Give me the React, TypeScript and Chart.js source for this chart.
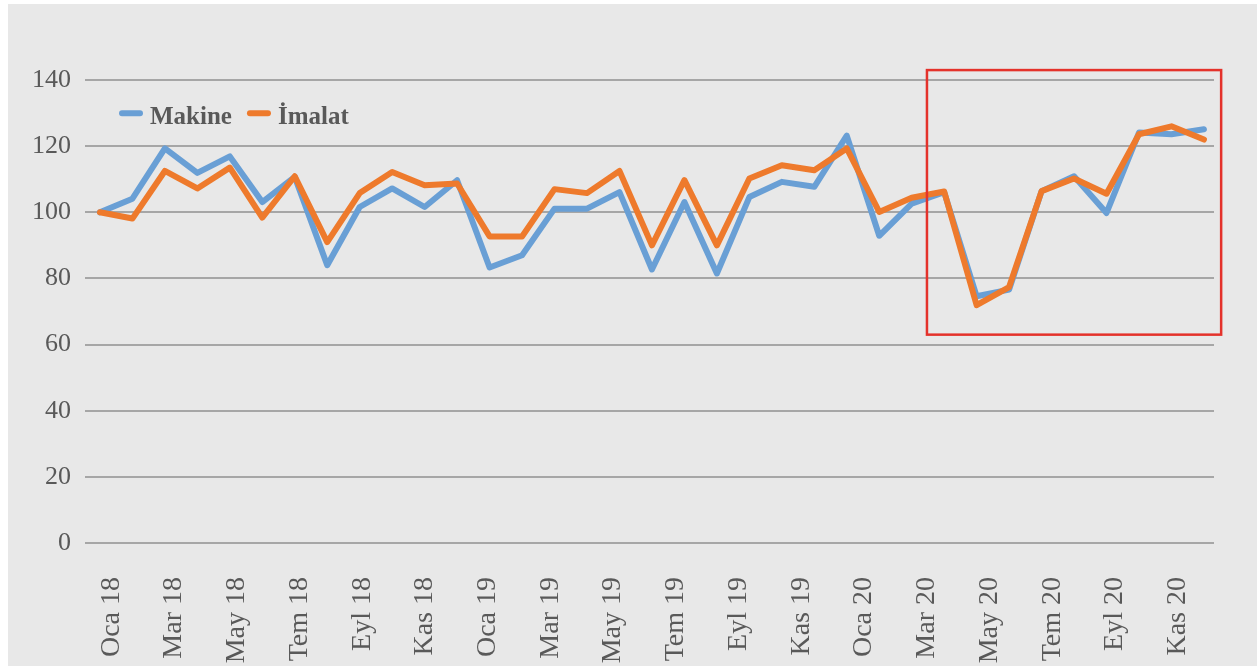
import { useEffect, useRef } from 'react';
import { Chart, registerables } from 'chart.js';

Chart.register(...registerables);

// 35 months, Oca 18 .. Kas 20
const months = [
  'Oca 18', 'Şub 18', 'Mar 18', 'Nis 18', 'May 18', 'Haz 18', 'Tem 18', 'Ağu 18', 'Eyl 18', 'Eki 18', 'Kas 18', 'Ara 18',
  'Oca 19', 'Şub 19', 'Mar 19', 'Nis 19', 'May 19', 'Haz 19', 'Tem 19', 'Ağu 19', 'Eyl 19', 'Eki 19', 'Kas 19', 'Ara 19',
  'Oca 20', 'Şub 20', 'Mar 20', 'Nis 20', 'May 20', 'Haz 20', 'Tem 20', 'Ağu 20', 'Eyl 20', 'Eki 20', 'Kas 20',
];

const tickLabels = [
  'Oca 18', 'Mar 18', 'May 18', 'Tem 18', 'Eyl 18', 'Kas 18',
  'Oca 19', 'Mar 19', 'May 19', 'Tem 19', 'Eyl 19', 'Kas 19',
  'Oca 20', 'Mar 20', 'May 20', 'Tem 20', 'Eyl 20', 'Kas 20',
];

const makine = [
  100, 104.1, 119.3, 111.9, 116.9, 103.1, 110.7, 84.0, 101.6, 107.2, 101.6, 109.7,
  83.3, 87.0, 101.1, 101.1, 106.1, 82.7, 103.1, 81.5, 104.6, 109.2, 107.7, 123.2,
  92.9, 102.6, 106.1, 74.6, 76.6, 106.4, 110.9, 99.8, 124.1, 123.6, 125.1,
];

const imalat = [
  100, 98.1, 112.5, 107.2, 113.5, 98.4, 110.9, 91.0, 105.8, 112.2, 108.2, 108.7,
  92.7, 92.7, 107.0, 105.8, 112.5, 90.0, 109.7, 90.0, 110.2, 114.2, 112.7, 119.3,
  100.1, 104.4, 106.3, 71.9, 77.4, 106.4, 110.2, 105.6, 123.6, 126.0, 122.0,
];

const seriesNames = ['Makine', 'İmalat'];

// highlighted region (in data units: month index, value)
const highlightX = [25.47, 34.53];
const highlightY = [63, 143];

const FONT = "'Liberation Serif', 'Times New Roman', serif";
const TEXT = '#595959';
const BLUE = '#699FD5';
const ORANGE = '#EE7A2C';

export default function App() {
  const ref = useRef<HTMLCanvasElement>(null);

  useEffect(() => {
    if (!ref.current) return;

    const boxPlugin = {
      id: 'highlightBox',
      afterDatasetsDraw(chart: any) {
        const { ctx, scales } = chart;
        const x = scales.x;
        const y = scales.y;
        const l = x.getPixelForValue(highlightX[0]);
        const r = x.getPixelForValue(highlightX[1]);
        const t = y.getPixelForValue(highlightY[1]);
        const b = y.getPixelForValue(highlightY[0]);
        ctx.save();
        ctx.strokeStyle = '#E4322B';
        ctx.lineWidth = 2.5;
        ctx.strokeRect(l, t, r - l, b - t);
        ctx.restore();
      },
    };

    const legendPlugin = {
      id: 'inlineLegend',
      afterDraw(chart: any) {
        const { ctx, chartArea } = chart;
        let x = chartArea.left + 34;
        const lineY = chartArea.top + 33.3;
        const baseY = chartArea.top + 43.5;
        ctx.save();
        ctx.font = `bold 25px ${FONT}`;
        ctx.textBaseline = 'alphabetic';
        ctx.textAlign = 'left';
        const order = [1, 0];
        order.forEach((di) => {
          const ds = chart.data.datasets[di];
          ctx.strokeStyle = ds.borderColor;
          ctx.lineWidth = 6;
          ctx.lineCap = 'round';
          ctx.beginPath();
          ctx.moveTo(x + 3, lineY);
          ctx.lineTo(x + 21, lineY);
          ctx.stroke();
          const tx = x + 31;
          ctx.fillStyle = TEXT;
          ctx.fillText(ds.label, tx, baseY);
          x = tx + ctx.measureText(ds.label).width + 15;
        });
        ctx.restore();
      },
    };

    const chart = new Chart(ref.current, {
      type: 'line',
      data: {
        labels: months,
        datasets: [
          {
            label: seriesNames[1],
            data: imalat.map((v, i) => ({ x: i, y: v })),
            borderColor: ORANGE,
            backgroundColor: ORANGE,
            borderWidth: 6,
            pointRadius: 0,
            tension: 0,
            borderCapStyle: 'round',
            borderJoinStyle: 'round',
            xAxisID: 'x',
            yAxisID: 'y',
            order: 1,
          },
          {
            label: seriesNames[0],
            data: makine.map((v, i) => ({ x: i, y: v })),
            borderColor: BLUE,
            backgroundColor: BLUE,
            borderWidth: 6,
            pointRadius: 0,
            tension: 0,
            borderCapStyle: 'round',
            borderJoinStyle: 'round',
            xAxisID: 'x',
            yAxisID: 'y',
            order: 2,
          },
        ],
      },
      options: {
        animation: false,
        responsive: true,
        maintainAspectRatio: false,
        layout: { padding: { top: 76, right: 43, left: 0, bottom: 0 } },
        plugins: {
          legend: { display: false },
          tooltip: { enabled: false },
        },
        scales: {
          x: {
            type: 'linear',
            min: -0.46,
            max: 34.31,
            display: false,
          },
          x2: {
            type: 'category',
            labels: tickLabels,
            position: 'bottom',
            offset: true,
            grid: { display: false, drawTicks: false },
            border: { display: false },
            ticks: {
              autoSkip: false,
              minRotation: 90,
              maxRotation: 90,
              padding: 34,
              labelOffset: -5,
              color: TEXT,
              font: { family: FONT, size: 28 },
            },
            afterFit: (s: any) => {
              s.height = 123;
            },
          },
          y: {
            min: 0,
            max: 140,
            ticks: {
              stepSize: 20,
              padding: 14,
              color: TEXT,
              font: { family: FONT, size: 26 },
            },
            grid: { color: '#A6A6A6', lineWidth: 2, drawTicks: false },
            border: { display: false },
            afterFit: (s: any) => {
              s.width = 77;
            },
          },
        },
      },
      plugins: [boxPlugin, legendPlugin],
    } as any);

    return () => chart.destroy();
  }, []);

  return (
    <div
      style={{
        position: 'fixed',
        left: 8,
        top: 4,
        right: 0,
        bottom: 0,
        background: '#E8E8E8',
      }}
    >
      <canvas ref={ref} />
    </div>
  );
}
